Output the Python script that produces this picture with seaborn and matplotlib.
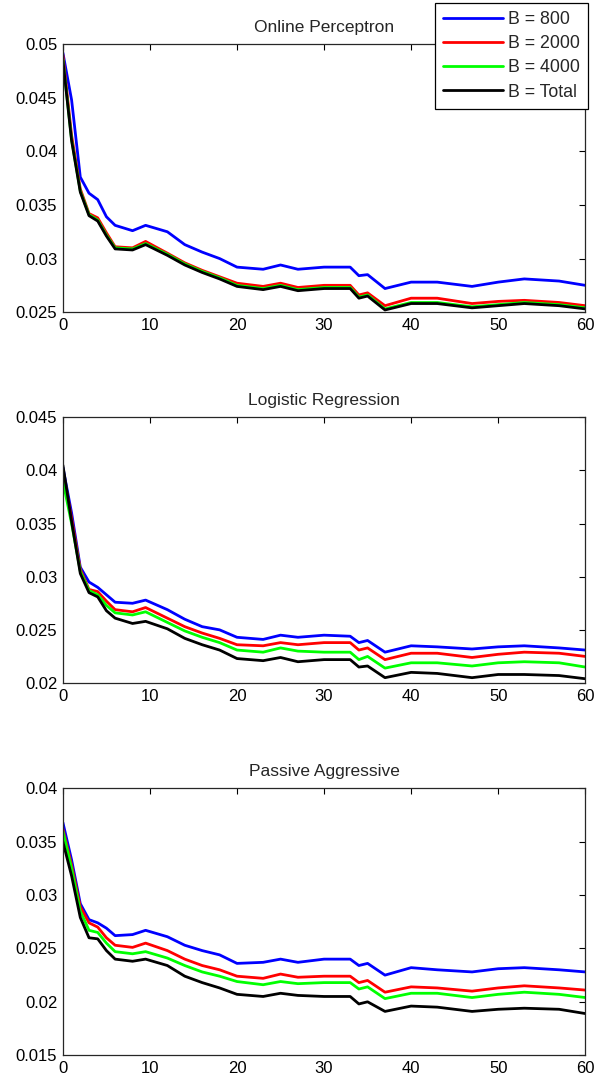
import numpy as np
import pandas as pd
import matplotlib
matplotlib.use('Agg')
import matplotlib.pyplot as plt
import seaborn as sns
from matplotlib.ticker import FixedLocator, FormatStrFormatter

# passes through the data (x axis)
x = [0, 1, 2, 3, 4, 5, 6, 8, 9.5, 12, 14, 16, 18, 20, 23, 25, 27,
     30, 33, 34, 35, 37, 40, 43, 47, 50, 53, 57, 60]

labels = ['B = 800', 'B = 2000', 'B = 4000', 'B = Total']
colors = ['#0000ff', '#ff0000', '#00ff00', '#000000']

# Online Perceptron
op_800 = [0.0492, 0.0448, 0.0376, 0.0361, 0.0355, 0.0339, 0.0331, 0.0326, 0.0331, 0.0325,
          0.0313, 0.0306, 0.0300, 0.0292, 0.0290, 0.0294, 0.0290, 0.0292, 0.0292, 0.0284,
          0.0285, 0.0272, 0.0278, 0.0278, 0.0274, 0.0278, 0.0281, 0.0279, 0.0275]
op_2000 = [0.0490, 0.0415, 0.0365, 0.0342, 0.0338, 0.0324, 0.0311, 0.0310, 0.0316, 0.0305,
           0.0296, 0.0289, 0.0283, 0.0277, 0.0274, 0.0277, 0.0273, 0.0275, 0.0275, 0.0266,
           0.0268, 0.0256, 0.0263, 0.0263, 0.0258, 0.0260, 0.0261, 0.0259, 0.0256]
op_4000 = [0.0486, 0.0411, 0.0363, 0.0341, 0.0336, 0.0322, 0.0310, 0.0309, 0.0314, 0.0304,
           0.0295, 0.0288, 0.0282, 0.0275, 0.0272, 0.0275, 0.0271, 0.0273, 0.0273, 0.0264,
           0.0266, 0.0253, 0.0259, 0.0259, 0.0255, 0.0257, 0.0259, 0.0257, 0.0254]
op_total = [0.0485, 0.0410, 0.0362, 0.0340, 0.0335, 0.0321, 0.0309, 0.0308, 0.0313, 0.0303,
            0.0294, 0.0287, 0.0281, 0.0274, 0.0271, 0.0274, 0.0270, 0.0272, 0.0272, 0.0263,
            0.0265, 0.0252, 0.0258, 0.0258, 0.0254, 0.0256, 0.0258, 0.0256, 0.0253]

# Logistic Regression
lr_800 = [0.0403, 0.0360, 0.0309, 0.0295, 0.0290, 0.0283, 0.0276, 0.0275, 0.0278, 0.0269,
          0.0260, 0.0253, 0.0250, 0.0243, 0.0241, 0.0245, 0.0243, 0.0245, 0.0244, 0.0238,
          0.0240, 0.0229, 0.0235, 0.0234, 0.0232, 0.0234, 0.0235, 0.0233, 0.0231]
lr_2000 = [0.0400, 0.0355, 0.0307, 0.0288, 0.0286, 0.0277, 0.0269, 0.0267, 0.0271, 0.0261,
           0.0253, 0.0247, 0.0242, 0.0236, 0.0235, 0.0238, 0.0236, 0.0238, 0.0238, 0.0231,
           0.0233, 0.0222, 0.0228, 0.0228, 0.0224, 0.0227, 0.0229, 0.0228, 0.0225]
lr_4000 = [0.0390, 0.0350, 0.0305, 0.0287, 0.0283, 0.0273, 0.0266, 0.0264, 0.0267, 0.0257,
           0.0249, 0.0243, 0.0238, 0.0231, 0.0229, 0.0233, 0.0230, 0.0229, 0.0229, 0.0222,
           0.0225, 0.0214, 0.0219, 0.0219, 0.0216, 0.0219, 0.0220, 0.0219, 0.0215]
lr_total = [0.0405, 0.0352, 0.0303, 0.0285, 0.0281, 0.0268, 0.0261, 0.0256, 0.0258, 0.0251,
            0.0242, 0.0236, 0.0231, 0.0223, 0.0221, 0.0224, 0.0220, 0.0222, 0.0222, 0.0215,
            0.0216, 0.0205, 0.0210, 0.0209, 0.0205, 0.0208, 0.0208, 0.0207, 0.0204]

# Passive Aggressive
pa_800 = [0.0368, 0.0333, 0.0292, 0.0277, 0.0274, 0.0269, 0.0262, 0.0263, 0.0267, 0.0261,
          0.0253, 0.0248, 0.0244, 0.0236, 0.0237, 0.0240, 0.0237, 0.0240, 0.0240, 0.0234,
          0.0236, 0.0225, 0.0232, 0.0230, 0.0228, 0.0231, 0.0232, 0.0230, 0.0228]
pa_2000 = [0.0362, 0.0328, 0.0289, 0.0274, 0.0270, 0.0260, 0.0253, 0.0251, 0.0255, 0.0248,
           0.0240, 0.0234, 0.0230, 0.0224, 0.0222, 0.0226, 0.0223, 0.0224, 0.0224, 0.0218,
           0.0220, 0.0209, 0.0214, 0.0213, 0.0210, 0.0213, 0.0215, 0.0213, 0.0211]
pa_4000 = [0.0360, 0.0325, 0.0285, 0.0267, 0.0265, 0.0255, 0.0247, 0.0245, 0.0247, 0.0241,
           0.0234, 0.0228, 0.0224, 0.0219, 0.0216, 0.0219, 0.0217, 0.0218, 0.0218, 0.0212,
           0.0214, 0.0203, 0.0208, 0.0208, 0.0204, 0.0207, 0.0209, 0.0207, 0.0204]
pa_total = [0.0350, 0.0318, 0.0279, 0.0260, 0.0259, 0.0248, 0.0240, 0.0238, 0.0240, 0.0234,
            0.0224, 0.0218, 0.0213, 0.0207, 0.0205, 0.0208, 0.0206, 0.0205, 0.0205, 0.0198,
            0.0200, 0.0191, 0.0196, 0.0195, 0.0191, 0.0193, 0.0194, 0.0193, 0.0189]

panels = [
    ('Online Perceptron', [op_800, op_2000, op_4000, op_total], (0.025, 0.05)),
    ('Logistic Regression', [lr_800, lr_2000, lr_4000, lr_total], (0.02, 0.045)),
    ('Passive Aggressive', [pa_800, pa_2000, pa_4000, pa_total], (0.015, 0.04)),
]

sns.set_style('white')
plt.rcParams['font.family'] = ['Liberation Sans', 'DejaVu Sans']
plt.rcParams['font.size'] = 12

fig = plt.figure(figsize=(5.99, 10.8), dpi=100)
# axes boxes in figure fractions [left, bottom, width, height]
boxes = [[0.105, 0.711, 0.872, 0.248],
         [0.105, 0.3676, 0.872, 0.246],
         [0.105, 0.023, 0.872, 0.247]]

palette = dict(zip(labels, colors))

for i, (title, series, ylim) in enumerate(panels):
    ax = fig.add_axes(boxes[i])
    df = pd.concat([pd.DataFrame({'x': x, 'err': s, 'B': lab})
                    for s, lab in zip(series, labels)])
    sns.lineplot(data=df, x='x', y='err', hue='B', palette=palette,
                 hue_order=labels, linewidth=2.0, ax=ax, legend=(i == 0))
    ax.set_xlim(0, 60)
    ax.set_ylim(*ylim)
    ax.xaxis.set_major_locator(FixedLocator([0, 10, 20, 30, 40, 50, 60]))
    ax.yaxis.set_major_locator(FixedLocator(np.arange(ylim[0], ylim[1] + 1e-9, 0.005)))
    ax.yaxis.set_major_formatter(FormatStrFormatter('%g'))
    ax.set_xlabel('')
    ax.set_ylabel('')
    ax.set_title(title, fontsize=12.5, pad=9)
    ax.tick_params(direction='in', length=4, width=0.8, top=True, right=True,
                   labelsize=12, pad=4, colors='black')
    for sp in ax.spines.values():
        sp.set_visible(True)
        sp.set_color('#262626')
        sp.set_linewidth(0.9)
    if i == 0:
        leg = ax.legend(loc='upper right', bbox_to_anchor=(0.982, 0.997),
                        bbox_transform=fig.transFigure, borderaxespad=0,
                        fancybox=False, framealpha=1, edgecolor='black',
                        handlelength=3.4, handletextpad=0.3, labelspacing=0.4,
                        borderpad=0.45, fontsize=12.8, title=None)
        leg.get_frame().set_linewidth(0.9)

fig.savefig('out.png', dpi=100)
